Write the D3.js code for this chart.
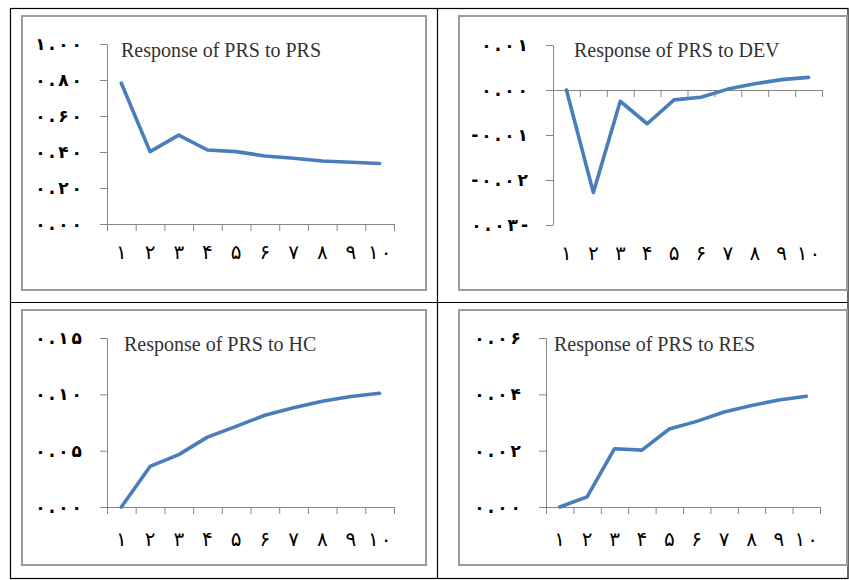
<!DOCTYPE html>
<html>
<head>
<meta charset="utf-8">
<script src="https://cdn.jsdelivr.net/npm/d3@7"></script>
<style>
  html, body { margin: 0; padding: 0; background: #fff; }
  svg { display: block; }
</style>
</head>
<body>
<svg id="chart" width="849" height="580"></svg>
<script>
// ---- data ----
const categories = ['۱','۲','۳','۴','۵','۶','۷','۸','۹','۱۰'];

const prsValues = [0.782, 0.402, 0.494, 0.411, 0.402, 0.378, 0.365, 0.350, 0.343, 0.336];
const devValues = [0.0000, -0.0228, -0.0025, -0.0075, -0.0022, -0.0016, 0.0002, 0.0014, 0.0023, 0.0028];
const hcValues  = [0.000, 0.036, 0.0465, 0.062, 0.0716, 0.0814, 0.088, 0.0938, 0.098, 0.101];
const resValues = [0.000, 0.0036, 0.0207, 0.0202, 0.0277, 0.0304, 0.0337, 0.036, 0.038, 0.0393];

const prsTickValues = [0, 0.2, 0.4, 0.6, 0.8, 1.0];
const prsTickLabels = ['۰.۰۰','۰.۲۰','۰.۴۰','۰.۶۰','۰.۸۰','۱.۰۰'];
const devTickValues = [-0.03, -0.02, -0.01, 0, 0.01];
const devTickLabels = ['۰.۰۳-','-۰.۰۲','-۰.۰۱','۰.۰۰','۰.۰۱'];
const hcTickValues  = [0, 0.05, 0.10, 0.15];
const hcTickLabels  = ['۰.۰۰','۰.۰۵','۰.۱۰','۰.۱۵'];
const resTickValues = [0, 0.02, 0.04, 0.06];
const resTickLabels = ['۰.۰۰','۰.۰۲','۰.۰۴','۰.۰۶'];

const titles = ['Response of PRS to PRS','Response of PRS to DEV','Response of PRS to HC','Response of PRS to RES'];

// ---- layout (positions only) ----
const panels = [
  { box:[22,16,426,290],  px:[107,394], py:[224,44],  domain:[0,1],        values:prsValues, tv:prsTickValues, tl:prsTickLabels, title:titles[0], tpos:[121,57],  lab:259 },
  { box:[459,16,847,290], px:[553,822], py:[225,45],  domain:[-0.03,0.01], values:devValues, tv:devTickValues, tl:devTickLabels, title:titles[1], tpos:[574,57],  lab:260 },
  { box:[22,310,426,565], px:[107,394], py:[507,338], domain:[0,0.15],     values:hcValues,  tv:hcTickValues,  tl:hcTickLabels,  title:titles[2], tpos:[124,351], lab:546 },
  { box:[459,310,847,565],px:[546,820], py:[507,338], domain:[0,0.06],     values:resValues, tv:resTickValues, tl:resTickLabels, title:titles[3], tpos:[554,351], lab:546 }
];

const svg = d3.select('#chart');

// outer table grid
const grid = svg.append('g').attr('stroke','#000').attr('stroke-width',1.2).attr('fill','none');
grid.append('rect').attr('x',10.5).attr('y',8.5).attr('width',837.5).attr('height',570);
grid.append('line').attr('x1',437.5).attr('x2',437.5).attr('y1',8.5).attr('y2',578.5);
grid.append('line').attr('x1',10.5).attr('x2',848).attr('y1',302.5).attr('y2',302.5);

const axisColor = '#878787';
const digitFont = '"DejaVu Sans", sans-serif';

// spread characters (letter-spacing is ignored for Arabic-script digits)
function spread(sel, str, gap) {
  sel.text(null);
  Array.from(str).forEach((c, j) => sel.append('tspan').attr('dx', j ? gap : 0).text(c));
}

panels.forEach(p => {
  const g = svg.append('g');
  // chart area border
  g.append('rect')
    .attr('x', p.box[0]).attr('y', p.box[1])
    .attr('width', p.box[2]-p.box[0]).attr('height', p.box[3]-p.box[1])
    .attr('fill','#fff').attr('stroke','#9c9c9c').attr('stroke-width',2);

  const x = d3.scaleLinear().domain([0.5, 10.5]).range(p.px);
  const y = d3.scaleLinear().domain(p.domain).range(p.py);

  // y axis
  const yAxis = d3.axisLeft(y).tickValues(p.tv).tickSize(7).tickSizeOuter(0)
    .tickPadding(18)
    .tickFormat((d,i) => p.tl[i]);
  const yg = g.append('g').attr('transform',`translate(${p.px[0]},0)`).call(yAxis);
  yg.select('.domain').attr('stroke',axisColor);
  yg.selectAll('.tick line').attr('stroke',axisColor);
  yg.selectAll('.tick text')
    .attr('fill','#000').style('font-family',digitFont).style('font-size','17px')
    .style('font-weight','bold')
    .each(function(d, i) { spread(d3.select(this), p.tl[i], 3); });

  // x axis at zero
  const xAxis = d3.axisBottom(x).tickValues(d3.range(0.5, 11, 1)).tickSize(7).tickSizeOuter(0)
    .tickFormat('');
  const xg = g.append('g').attr('transform',`translate(0,${y(0)})`).call(xAxis);
  xg.select('.domain').attr('stroke',axisColor);
  xg.selectAll('.tick line').attr('stroke',axisColor);

  // category labels (low position)
  g.append('g').selectAll('text').data(categories).join('text')
    .attr('x',(d,i) => x(i+1)).attr('y', p.lab)
    .attr('text-anchor','middle')
    .style('font-family',digitFont).style('font-size','20px')
    .attr('fill','#000')
    .each(function(d) { spread(d3.select(this), d, 2); });

  // line
  const line = d3.line().x((d,i) => x(i+1)).y(d => y(d));
  g.append('path').datum(p.values)
    .attr('d', line).attr('fill','none')
    .attr('stroke','#4a7ebb').attr('stroke-width',3.6)
    .attr('stroke-linejoin','round').attr('stroke-linecap','round');

  // title
  g.append('text').attr('x',p.tpos[0]).attr('y',p.tpos[1])
    .style('font-family','"Liberation Serif", "Times New Roman", serif')
    .style('font-size','20px').attr('fill','#333')
    .text(p.title);
});
</script>
</body>
</html>
